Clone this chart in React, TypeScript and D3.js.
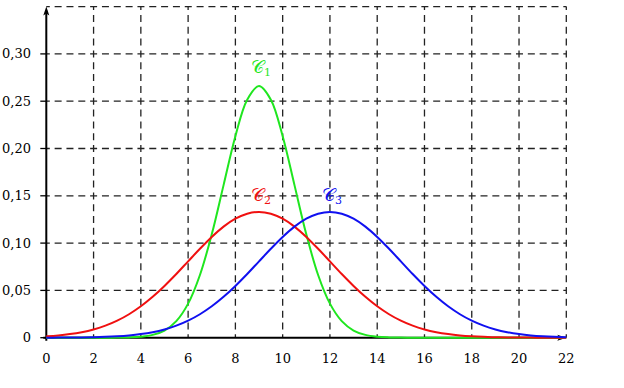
import React from "react";
import * as d3 from "d3";

const xs: number[] = [0,0.5,1,1.5,2,2.5,3,3.5,4,4.5,5,5.5,6,6.5,7,7.5,8,8.5,9,9.5,10,10.5,11,11.5,12,12.5,13,13.5,14,14.5,15,15.5,16,16.5,17,17.5,18,18.5,19,19.5,20,20.5,21,21.5,22];

const c1: number[] = [0,0,0,0,0,0.00002,0.00009,0.00032,0.00103,0.00296,0.0076,0.0175,0.036,0.0663,0.1093,0.1613,0.213,0.2516,0.266,0.2516,0.213,0.1613,0.1093,0.0663,0.036,0.0175,0.0076,0.00296,0.00103,0.00032,0.00009,0.00002,0,0,0,0,0,0,0,0,0,0,0,0,0];
const c2: number[] = [0.00148,0.0024,0.0038,0.00584,0.00874,0.0127,0.018,0.0248,0.0332,0.0432,0.0547,0.0673,0.0807,0.094,0.1065,0.1174,0.1258,0.1311,0.133,0.1311,0.1258,0.1174,0.1065,0.094,0.0807,0.0673,0.0547,0.0432,0.0332,0.0248,0.018,0.0127,0.00874,0.00584,0.0038,0.0024,0.00148,0.00088,0.00051,0.00029,0.00016,0.00009,0.00004,0.00002,0.00001];
const c3: number[] = [0.00004,0.00009,0.00016,0.00029,0.00051,0.00088,0.00148,0.0024,0.0038,0.00584,0.00874,0.0127,0.018,0.0248,0.0332,0.0432,0.0547,0.0673,0.0807,0.094,0.1065,0.1174,0.1258,0.1311,0.133,0.1311,0.1258,0.1174,0.1065,0.094,0.0807,0.0673,0.0547,0.0432,0.0332,0.0248,0.018,0.0127,0.00874,0.00584,0.0038,0.0024,0.00148,0.00088,0.00051];

// curve order, colours, label positions (data coords)
const curveNames: string[] = ["1", "2", "3"];
const curveColors: string[] = ["#1fe61f", "#f01010", "#1010f0"];
const labelX: number[] = [9, 9, 12];
const labelY: number[] = [0.285, 0.150, 0.150];

const xTicks: number[] = [0,2,4,6,8,10,12,14,16,18,20,22];
const yTicks: number[] = [0,0.05,0.1,0.15,0.2,0.25,0.3];
const yTickLabels: string[] = ["0","0,05","0,10","0,15","0,20","0,25","0,30"];
const yGrid: number[] = [0.05,0.1,0.15,0.2,0.25,0.3,0.35];

export default function App() {
  const W = 624, H = 388;
  const x = d3.scaleLinear().domain([0, 22]).range([46.3, 566.3]);
  const y = d3.scaleLinear().domain([0, 0.35]).range([337.7, 6.6]);
  const series = [c1, c2, c3];
  const line = (vals: number[]) =>
    d3.line<number>()
      .x((_, i) => x(xs[i]))
      .y((v) => y(v))
      .curve(d3.curveCatmullRom.alpha(0.5))(vals) || "";

  const font = "'DejaVu Serif', serif";
  const dash = "7 4.83";
  return (
    <svg width={W} height={H} style={{ position: "absolute", left: 0, top: 0, background: "#fff" }}>
      {/* grid */}
      <g stroke="#222" strokeWidth={1.3} strokeDasharray={dash} strokeDashoffset={3.5} fill="none">
        {xTicks.filter((t) => t > 0).map((t) => (
          <line key={"v" + t} x1={x(t)} x2={x(t)} y1={y(0.35)} y2={y(0)} />
        ))}
        {yGrid.map((t) => (
          <line key={"h" + t} x1={x(0)} x2={x(22)} y1={y(t)} y2={y(t)} />
        ))}
      </g>
      {/* axes */}
      <g stroke="#000" fill="none">
        <line x1={x(0)} x2={x(0)} y1={y(0) + 3} y2={y(0.35) + 4} strokeWidth={2} />
        <line x1={x(0) - 3} x2={x(22) - 4} y1={y(0)} y2={y(0)} strokeWidth={2} />
        {yTicks.map((t) => (
          <line key={"yt" + t} x1={x(0) - 6} x2={x(0)} y1={y(t)} y2={y(t)} strokeWidth={1.3} />
        ))}
      </g>
      <path d={`M${x(0)},${y(0.35)} L${x(0) - 3},${y(0.35) + 9} L${x(0)},${y(0.35) + 7} L${x(0) + 3},${y(0.35) + 9} Z`} fill="#000" />
      <path d={`M${x(22)},${y(0)} L${x(22) - 9},${y(0) - 3} L${x(22) - 7},${y(0)} L${x(22) - 9},${y(0) + 3} Z`} fill="#000" />
      {/* tick labels */}
      <g fontFamily={font} fontSize={13} fill="#000">
        {yTicks.map((t, i) => (
          <text key={"yl" + t} x={31} y={y(t) + 4.5} textAnchor="end">{yTickLabels[i]}</text>
        ))}
        {xTicks.map((t) => (
          <text key={"xl" + t} x={x(t)} y={362.5} textAnchor="middle">{String(t)}</text>
        ))}
      </g>
      {/* curves */}
      {series.map((s, i) => (
        <path key={"c" + i} d={line(s)} fill="none" stroke={curveColors[i]} strokeWidth={2} />
      ))}
      {/* curve labels */}
      {series.map((_, i) => (
        <text key={"lb" + i} x={x(labelX[i]) + 2} y={y(labelY[i]) + 5} textAnchor="middle" fill={curveColors[i]} fontFamily={font} fontSize={18}>
          𝒞<tspan fontSize={11} dy={3}>{curveNames[i]}</tspan>
        </text>
      ))}
    </svg>
  );
}
